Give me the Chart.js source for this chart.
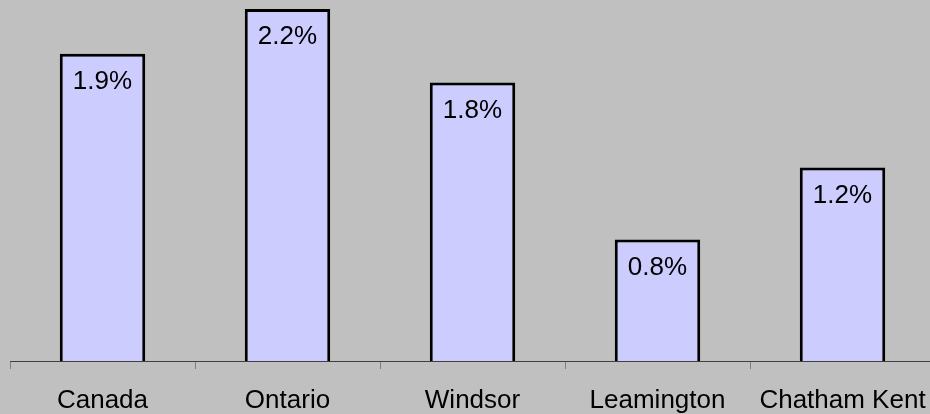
<!DOCTYPE html>
<html>
<head>
<meta charset="utf-8">
<script src="https://cdn.jsdelivr.net/npm/chart.js@4/dist/chart.umd.min.js"></script>
<style>
  html, body { margin: 0; padding: 0; background: #c0c0c0; overflow: hidden; }
  #wrap { width: 930px; height: 414px; overflow: hidden; }
</style>
</head>
<body>
<div id="wrap"><canvas id="grafico" width="935" height="414"></canvas></div>
<script>
var regioes = ["Canada", "Ontario", "Windsor", "Leamington", "Chatham Kent"];
var taxas = [1.92, 2.2, 1.74, 0.76, 1.21];
var rotulos = ["1.9%", "2.2%", "1.8%", "0.8%", "1.2%"];

// escreve o valor dentro do topo de cada barra
var rotuloBarra = {
    id: 'rotuloBarra',
    afterDatasetsDraw: function (chart) {
        var ctx = chart.ctx;
        var meta = chart.getDatasetMeta(0);
        ctx.save();
        ctx.fillStyle = '#000';
        ctx.font = '26px "Liberation Sans", Arial, sans-serif';
        ctx.textAlign = 'center';
        ctx.textBaseline = 'middle';
        meta.data.forEach(function (barra, i) {
            ctx.fillText(rotulos[i], barra.x, barra.y + 28);
        });
        ctx.restore();
    }
};

new Chart(document.getElementById("grafico"), {
    type: 'bar',
    data: {
        labels: regioes,
        datasets: [{
            data: taxas,
            backgroundColor: "#ccccff",
            borderColor: "#000000",
            borderWidth: 3,
            categoryPercentage: 1,
            barPercentage: 0.462
        }]
    },
    options: {
        responsive: false,
        animation: false,
        layout: { padding: { left: 10, right: 0, top: 0, bottom: 0 } },
        plugins: { legend: { display: false }, tooltip: { enabled: false } },
        scales: {
            y: { display: false, min: 0, max: 2.256 },
            x: {
                afterFit: function (escala) {
                    escala.height = 53;
                    escala.paddingLeft = 0;
                    escala.paddingRight = 0;
                },
                border: { display: true, color: '#404040', width: 1 },
                grid: { offset: true, drawOnChartArea: false, drawTicks: true, tickLength: 8, color: '#808080', tickWidth: 1 },
                ticks: {
                    color: '#000',
                    padding: 16,
                    maxRotation: 0,
                    autoSkip: false,
                    font: { family: '"Liberation Sans", Arial, sans-serif', size: 26 }
                }
            }
        }
    },
    plugins: [rotuloBarra]
});
</script>
</body>
</html>
